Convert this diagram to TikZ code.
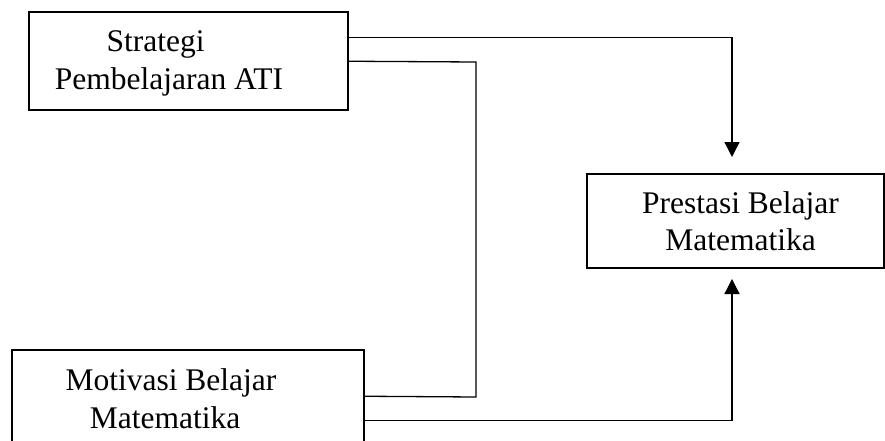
\documentclass[tikz,border=0pt]{standalone}
\usepackage{fontspec}
\setmainfont{Liberation Serif}
\usetikzlibrary{arrows.meta,calc}
\begin{document}
\begin{tikzpicture}[x=1pt,y=-1pt,
  box/.style={draw=black,line width=1.5pt,rectangle,inner sep=0pt},
  txt/.style={inner sep=0pt,anchor=base,font=\fontsize{31.5}{38}\selectfont},
  conn/.style={draw=black,line width=1.3pt},
  arr/.style={conn,-{Triangle[length=15pt,width=15pt]}}]
\clip (0,0) rectangle (885,441);
\fill[white] (0,0) rectangle (885,441);
% boxes
\node[box,minimum width=319pt,minimum height=98pt] (strat) at (188.5,61) {};
\node[box,minimum width=297pt,minimum height=94pt] (presta) at (735.5,221) {};
\node[box,minimum width=352pt,minimum height=120pt] (mot) at (188,410) {};
% texts
\node[txt] (strat1) at (155.5,52) {Strategi};
\node[txt] (strat2) at (169,90) {Pembelajaran ATI};
\node[txt] (presta1) at (740.5,213) {Prestasi Belajar};
\node[txt] (presta2) at (740.5,250) {Matematika};
\node[txt] (mot1) at (171,390) {Motivasi Belajar};
\node[txt] (mot2) at (165,428) {Matematika};
% connector points
\coordinate (s1) at ($(strat.north east)+(0,26)$);
\coordinate (s2) at ($(strat.north east)+(0,50)$);
\coordinate (m1) at ($(mot.north east)+(0,47)$);
\coordinate (m2) at ($(mot.north east)+(0,71)$);
\coordinate (tipTop) at (732,157);
\coordinate (tipBot) at (732,279);
% connectors
\draw[arr] (s1) -| (tipTop);
\draw[conn] (s2) -- (476,62) -- (476,397) -- (m1);
\draw[arr] (m2) -| (tipBot);
\end{tikzpicture}
\end{document}
